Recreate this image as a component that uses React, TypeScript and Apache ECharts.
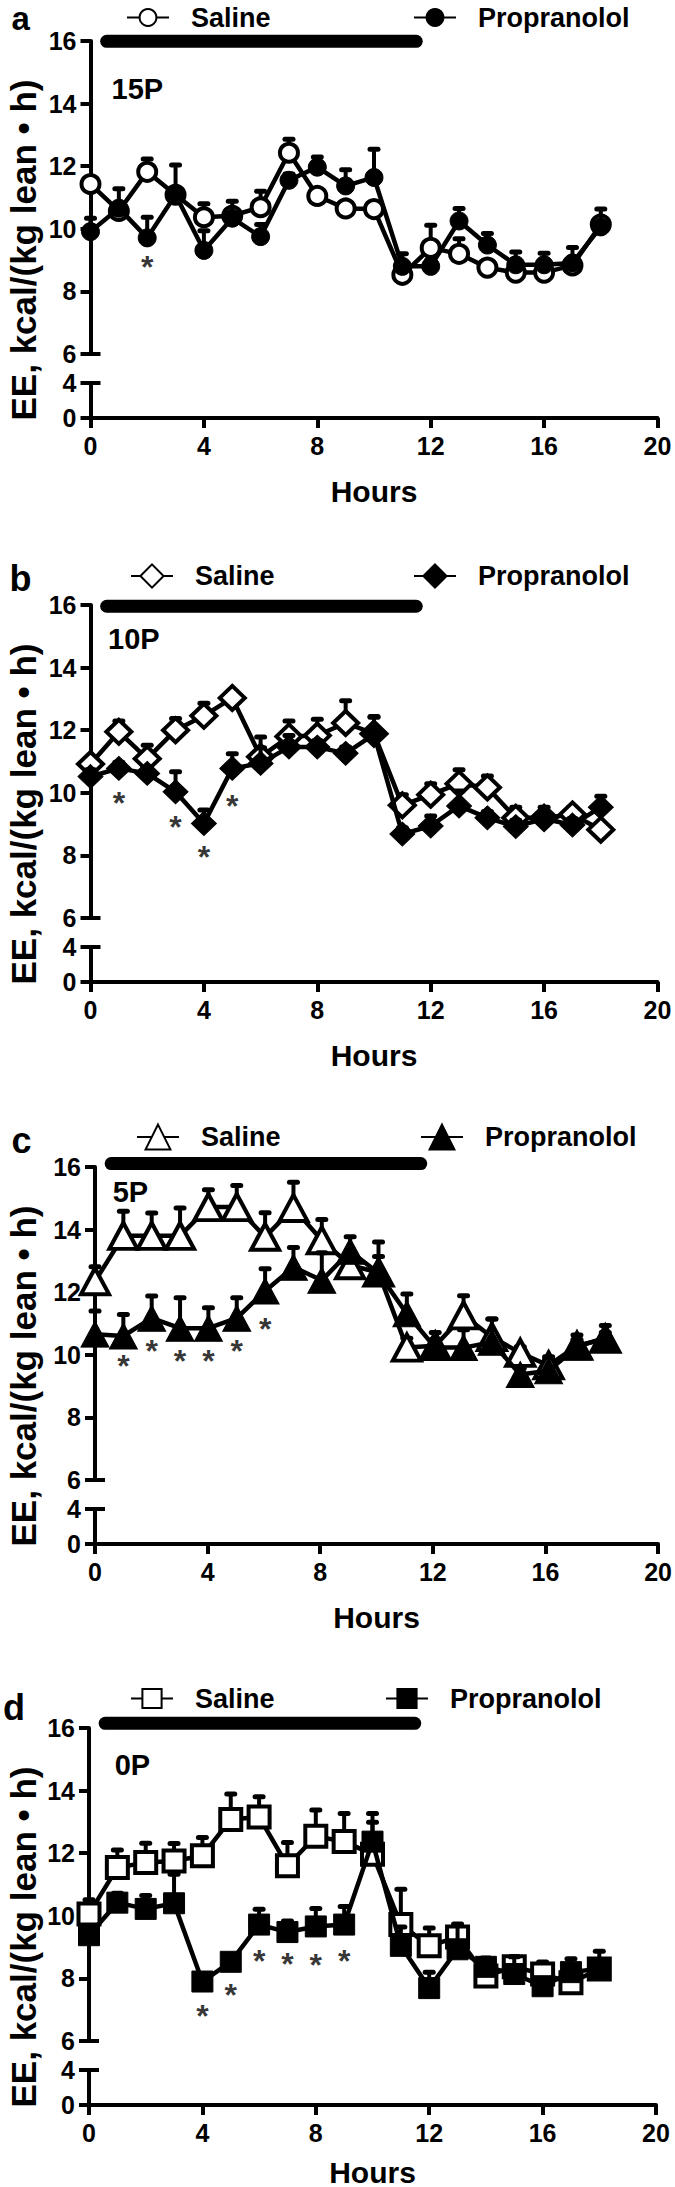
import { useEffect, useRef } from "react";
import * as echarts from "echarts";

// ---------------- data ----------------
const hours = [0, 1, 2, 3, 4, 5, 6, 7, 8, 9, 10, 11, 12, 13, 14, 15, 16, 17, 18];
const xTicks = [0, 4, 8, 12, 16, 20];
const darkPeriod = [0.57, 11.49]; // black bar (hours)

// Panel a (15P)
const salineA = [11.43, 10.57, 11.82, 11.09, 10.37, 10.42, 10.69, 12.43, 11.05, 10.65, 10.63, 8.53, 9.39, 9.2, 8.76, 8.6, 8.6, 8.83, 10.14];
const salineAErr = [0.2, 0.2, 0.41, 0.2, 0.43, 0.2, 0.51, 0.43, 0.2, 0.2, 0.2, 0.2, 0.72, 0.48, 0.2, 0.2, 0.2, 0.2, 0.2];
const propA = [9.91, 10.66, 9.71, 11.09, 9.31, 10.34, 9.75, 11.55, 11.97, 11.37, 11.64, 8.8, 8.8, 10.25, 9.48, 8.85, 8.85, 8.91, 10.06];
const propAErr = [0.43, 0.62, 0.66, 0.95, 0.63, 0.54, 0.39, 0.2, 0.32, 0.52, 0.9, 0.4, 0.2, 0.4, 0.37, 0.41, 0.37, 0.49, 0.57];
const starsA = [[2, 9.03]];

// Panel b (10P)
const salineB = [10.92, 11.95, 11.09, 12.0, 12.46, 13.03, 11.15, 11.8, 11.83, 12.23, 11.89, 9.6, 9.94, 10.29, 10.17, 9.2, 9.2, 9.31, 8.82];
const salineBErr = [0.2, 0.34, 0.43, 0.37, 0.4, 0.2, 0.63, 0.49, 0.52, 0.71, 0.55, 0.34, 0.35, 0.45, 0.37, 0.34, 0.2, 0.23, 0.2];
const propB = [10.52, 10.78, 10.62, 10.03, 9.02, 10.78, 10.94, 11.46, 11.46, 11.26, 11.87, 8.68, 8.94, 9.58, 9.2, 8.92, 9.17, 8.97, 9.54];
const propBErr = [0.22, 0.2, 0.2, 0.64, 0.43, 0.47, 0.5, 0.37, 0.2, 0.2, 0.54, 0.2, 0.32, 0.48, 0.2, 0.2, 0.37, 0.2, 0.35];
const starsB = [[1, 9.93], [3, 9.15], [4, 8.22], [5, 9.82]];

// Panel c (5P)
const salineC = [12.35, 13.8, 13.8, 13.8, 14.72, 14.72, 13.77, 14.69, 13.66, 12.86, 12.63, 10.23, 10.29, 11.26, 10.57, 10.06, 9.66, 10.29, 10.51];
const salineCErr = [0.46, 0.79, 0.73, 0.89, 0.55, 0.69, 0.77, 0.82, 0.66, 0.2, 0.97, 0.3, 0.2, 0.63, 0.57, 0.2, 0.2, 0.2, 0.2];
const propC = [10.66, 10.6, 11.17, 10.85, 10.85, 11.17, 12.04, 12.8, 12.38, 13.31, 12.61, 11.31, 10.23, 10.23, 10.4, 9.37, 9.49, 10.25, 10.55];
const propCErr = [0.74, 0.69, 0.71, 0.97, 0.65, 0.65, 0.71, 0.63, 0.88, 0.46, 0.53, 0.63, 0.48, 0.57, 0.74, 0.2, 0.45, 0.38, 0.39];
const starsC = [[1, 9.91], [2, 10.39], [3, 10.07], [4, 10.07], [5, 10.39], [6, 11.08]];

// Panel d (0P)
const salineD = [10.06, 11.54, 11.7, 11.75, 11.92, 13.08, 13.16, 11.6, 12.54, 12.37, 11.97, 9.72, 9.04, 9.32, 8.08, 8.37, 8.14, 7.86, 8.3];
const salineDErr = [0.45, 0.56, 0.62, 0.56, 0.58, 0.81, 0.64, 0.74, 0.84, 0.9, 1.02, 1.13, 0.57, 0.34, 0.2, 0.32, 0.38, 0.3, 0.2];
const propD = [9.38, 10.42, 10.22, 10.4, 7.9, 8.53, 9.72, 9.48, 9.66, 9.72, 12.37, 9.04, 7.69, 8.93, 8.37, 8.14, 7.75, 8.2, 8.31];
const propDErr = [0.2, 0.3, 0.43, 0.93, 0.2, 0.2, 0.49, 0.35, 0.57, 0.58, 0.9, 0.6, 0.51, 0.81, 0.28, 0.55, 0.2, 0.43, 0.56];
const starsD = [[4, 7.06], [5, 7.73], [6, 8.82], [7, 8.71], [8, 8.67], [9, 8.82]];

// ---------------- style / layout ----------------
const FONT = "'Liberation Sans', Arial, Helvetica, sans-serif";
const CHART_W = 675;
const CHART_H = 560;
const T = 70; // y of value 16 inside each chart
const PLOT_W = 567;
const UPPER_H = 313;
const LOWER_TOP = T + 342;
const LOWER_H = 35;

type Panel = {
  letter: string;
  tag: string;
  symbol: string;
  size: number | number[];
  legendSize: number;
  saline: number[];
  salineErr: number[];
  prop: number[];
  propErr: number[];
  stars: number[][];
  pageT: number;
  x0: number;
  barY: number;
  legY: number;
  legSalX: number;
  legPropX: number;
  tagX: number;
  tagY: number;
  letterX: number;
  letterY: number;
  letterSize: number;
  hoursGap: number;
};

const panels: Panel[] = [
  { letter: "a", tag: "15P", symbol: "circle", size: 18, legendSize: 21, saline: salineA, salineErr: salineAErr, prop: propA, propErr: propAErr, stars: starsA, pageT: 41.3, x0: 90.5, barY: 15.99, legY: T - 27, legSalX: 126, legPropX: 413, tagX: 111.5, tagY: T + 48, letterX: 20.6, letterY: T - 22.5, letterSize: 33, hoursGap: 58 },
  { letter: "b", tag: "10P", symbol: "diamond", size: [25, 24], legendSize: 29, saline: salineB, salineErr: salineBErr, prop: propB, propErr: propBErr, stars: starsB, pageT: 604.6, x0: 90.5, barY: 15.96, legY: T - 28.5, legSalX: 130, legPropX: 413, tagX: 108, tagY: T + 34, letterX: 20.6, letterY: T - 27, letterSize: 36, hoursGap: 58 },
  { letter: "c", tag: "5P", symbol: "triangle", size: [28, 26], legendSize: 31, saline: salineC, salineErr: salineCErr, prop: propC, propErr: propCErr, stars: starsC, pageT: 1167.2, x0: 95, barY: 16.11, legY: T - 28.5, legSalX: 136, legPropX: 420, tagX: 112.7, tagY: T + 25, letterX: 21.6, letterY: T - 27, letterSize: 36, hoursGap: 58 },
  { letter: "d", tag: "0P", symbol: "rect", size: 21, legendSize: 24, saline: salineD, salineErr: salineDErr, prop: propD, propErr: propDErr, stars: starsD, pageT: 1727.7, x0: 89, barY: 16.15, legY: T - 31.5, legSalX: 130, legPropX: 385, tagX: 114.7, tagY: T + 37, letterX: 14, letterY: T - 21, letterSize: 36, hoursGap: 52 },
];

const axisLineStyle = { color: "#000", width: 4 };
const tickStyle = { show: true, length: 10, lineStyle: { color: "#000", width: 4 } };
const tickLabel = { fontSize: 25, fontWeight: "bold" as const, color: "#000", fontFamily: FONT };

function errSeries(mean: number[], err: number[], z: number) {
  return {
    type: "custom",
    name: "err",
    xAxisIndex: 0,
    yAxisIndex: 0,
    z,
    silent: true,
    clip: false,
    encode: { x: 0, y: [1, 2] },
    data: hours.map((h, i) => [h, mean[i], mean[i] + err[i]]),
    renderItem: (_params: any, api: any) => {
      const x = api.value(0);
      const a = api.coord([x, api.value(1)]);
      const b = api.coord([x, api.value(2)]);
      return {
        type: "group",
        children: [
          { type: "line", shape: { x1: a[0], y1: a[1], x2: b[0], y2: b[1] }, style: { stroke: "#000", lineWidth: 4 } },
          { type: "line", shape: { x1: b[0] - 4, y1: b[1], x2: b[0] + 4, y2: b[1] }, style: { stroke: "#000", lineWidth: 5, lineCap: "round" } },
        ],
      };
    },
  };
}

function buildOption(p: Panel): any {
  const legendText = { fontSize: 27, fontWeight: "bold", color: "#000", fontFamily: FONT, lineHeight: 28, padding: [0, 0, 0, 17] };
  return {
    animation: false,
    grid: [
      { left: p.x0, top: T, width: PLOT_W, height: UPPER_H, containLabel: false },
      { left: p.x0, top: LOWER_TOP, width: PLOT_W, height: LOWER_H, containLabel: false },
    ],
    legend: [
      { data: ["Saline"], left: p.legSalX, top: p.legY - p.legendSize / 2, padding: 0, itemWidth: 42, itemHeight: p.legendSize, selectedMode: false, textStyle: legendText },
      { data: ["Propranolol"], left: p.legPropX, top: p.legY - p.legendSize / 2, padding: 0, itemWidth: 42, itemHeight: p.legendSize, selectedMode: false, textStyle: legendText },
    ],
    xAxis: [
      { gridIndex: 0, type: "value", min: 0, max: 20, interval: 4, show: false },
      {
        gridIndex: 1, type: "value", min: xTicks[0], max: xTicks[xTicks.length - 1], interval: 4,
        axisLine: { show: true, lineStyle: axisLineStyle },
        axisTick: tickStyle,
        axisLabel: { ...tickLabel, margin: 15 },
        splitLine: { show: false },
        name: "Hours", nameLocation: "middle", nameGap: p.hoursGap,
        nameTextStyle: { fontSize: 30, fontWeight: "bold", color: "#000", fontFamily: FONT },
      },
    ],
    yAxis: [
      {
        gridIndex: 0, type: "value", min: 6, max: 16, interval: 2,
        axisLine: { show: true, lineStyle: axisLineStyle },
        axisTick: tickStyle,
        axisLabel: { ...tickLabel, margin: 14 },
        splitLine: { show: false },
      },
      {
        gridIndex: 1, type: "value", min: 0, max: 4, interval: 4,
        axisLine: { show: true, lineStyle: axisLineStyle },
        axisTick: tickStyle,
        axisLabel: { ...tickLabel, margin: 14 },
        splitLine: { show: false },
      },
    ],
    graphic: [
      {
        type: "text", x: 23, y: T + 209, rotation: Math.PI / 2,
        style: { text: "EE, kcal/(kg lean \u2022 h)", font: `bold 35px ${FONT}`, fill: "#000", align: "center", verticalAlign: "middle" },
      },
      { type: "text", x: p.letterX, y: p.letterY, style: { text: p.letter, font: `bold ${p.letterSize}px ${FONT}`, lineHeight: p.letterSize, fill: "#000", align: "center", verticalAlign: "middle" } },
      { type: "text", x: p.tagX, y: p.tagY, style: { text: p.tag, font: `bold 29px ${FONT}`, fill: "#000", align: "left", verticalAlign: "middle" } },
      { type: "line", shape: { x1: p.x0, y1: T + UPPER_H, x2: p.x0 + 10, y2: T + UPPER_H }, style: { stroke: "#000", lineWidth: 4 } },
      { type: "line", shape: { x1: p.x0, y1: LOWER_TOP, x2: p.x0 + 10, y2: LOWER_TOP }, style: { stroke: "#000", lineWidth: 4 } },
    ],
    series: [
      {
        type: "line", name: "dark", xAxisIndex: 0, yAxisIndex: 0, z: 2, clip: false, silent: true,
        data: [[darkPeriod[0], p.barY], [darkPeriod[1], p.barY]],
        symbol: "none", lineStyle: { color: "#000", width: 13, cap: "round" },
      },
      errSeries(p.saline, p.salineErr, 3),
      errSeries(p.prop, p.propErr, 5),
      {
        type: "line", name: "Saline", xAxisIndex: 0, yAxisIndex: 0, z: 4, clip: false,
        data: hours.map((h, i) => [h, p.saline[i]]),
        symbol: p.symbol, symbolSize: p.size, showAllSymbol: true,
        itemStyle: { color: "#fff", borderColor: "#000", borderWidth: 4 },
        lineStyle: { color: "#000", width: 4.5 },
      },
      {
        type: "line", name: "Propranolol", xAxisIndex: 0, yAxisIndex: 0, z: 6, clip: false,
        data: hours.map((h, i) => [h, p.prop[i]]),
        symbol: p.symbol, symbolSize: p.size, showAllSymbol: true,
        itemStyle: { color: "#000", borderColor: "#000", borderWidth: 1 },
        lineStyle: { color: "#000", width: 4.5 },
      },
      {
        type: "scatter", name: "sig", xAxisIndex: 0, yAxisIndex: 0, z: 7, silent: true,
        data: p.stars, symbolSize: 1, itemStyle: { color: "rgba(0,0,0,0)" },
        label: { show: true, formatter: "*", position: "inside", fontSize: 32, fontWeight: "bold", color: "#000", fontFamily: FONT, offset: [0, 8] },
      },
    ],
  };
}

function PanelChart({ panel }: { panel: Panel }) {
  const ref = useRef<HTMLDivElement>(null);
  useEffect(() => {
    if (!ref.current) return;
    const chart = echarts.init(ref.current, undefined, { renderer: "svg" });
    chart.setOption(buildOption(panel));
    return () => chart.dispose();
  }, [panel]);
  return (
    <div
      ref={ref}
      style={{ position: "absolute", left: 0, top: panel.pageT - T, width: CHART_W, height: CHART_H }}
    />
  );
}

export default function App() {
  return (
    <div style={{ position: "absolute", left: 0, top: 0, width: 675, height: 2187, overflow: "hidden", background: "#fff" }}>
      {panels.map((p) => (
        <PanelChart key={p.letter} panel={p} />
      ))}
    </div>
  );
}
